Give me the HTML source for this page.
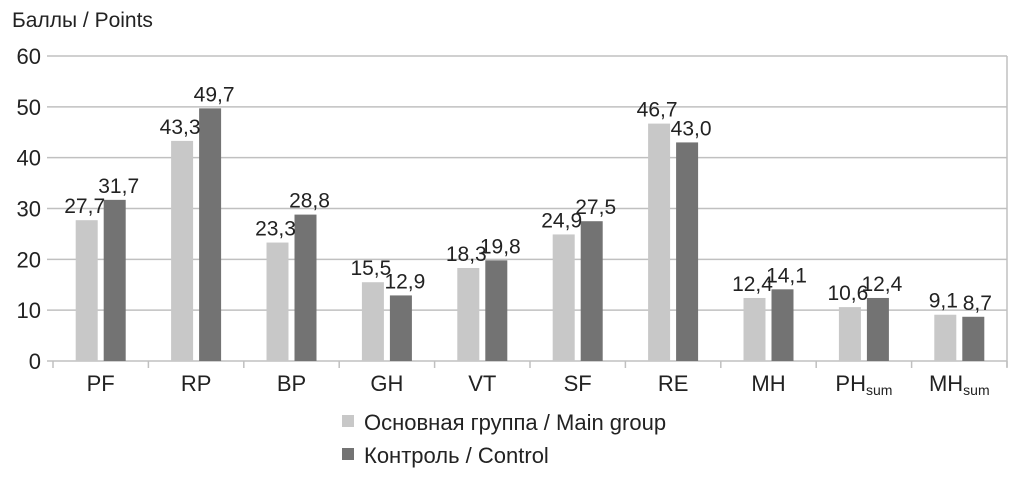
<!DOCTYPE html>
<html><head><meta charset="utf-8"><style>
body{margin:0;background:#fff;width:1024px;height:480px;overflow:hidden}
text{font-family:"Liberation Sans",sans-serif;fill:#222}
</style></head><body>
<svg width="1024" height="480" id="chart">
<text x="12" y="27" font-size="21">Баллы / Points</text>
<g id="grid"></g><g id="bars"></g><g id="labels"></g>
<g>
<rect x="342" y="415" width="12" height="12" fill="#c8c8c8"/>
<text x="364" y="430" font-size="22">Основная группа / Main group</text>
<rect x="342" y="448" width="12" height="12" fill="#737373"/>
<text x="364" y="463" font-size="22">Контроль / Control</text>
</g>
</svg>
<script>
const categories=["PF","RP","BP","GH","VT","SF","RE","MH","PH","MH"];
const subs=["","","","","","","","","sum","sum"];
const mainVals=[27.7,43.3,23.3,15.5,18.3,24.9,46.7,12.4,10.6,9.1];
const ctrlVals=[31.7,49.7,28.8,12.9,19.8,27.5,43.0,14.1,12.4,8.7];
const yTicks=[0,10,20,30,40,50,60];
const NS="http://www.w3.org/2000/svg";
const x0=53,x1=1007,y0=361,y60=56;
const bw=(x1-x0)/categories.length;
function y(v){return y0-(v/60)*(y0-y60);}
function xc(i){return x0+bw*(i+0.5);}
function mk(t,a,p){const e=document.createElementNS(NS,t);for(const k in a)e.setAttribute(k,a[k]);p.appendChild(e);return e;}
const g=document.getElementById('grid'),b=document.getElementById('bars'),l=document.getElementById('labels');
yTicks.forEach(t=>{
 const ln=mk('line',{x1:x0-6,x2:x1,y1:y(t),y2:y(t),stroke:'#c0c0c0','stroke-width':1.5},g);
 
 
 const tx=mk('text',{x:x0-12,y:y(t)+8,'font-size':22,'text-anchor':'end'},g);tx.textContent=t;
 
 
});
mk('line',{x1:x1,x2:x1,y1:y60,y2:y0+6,stroke:'#c0c0c0','stroke-width':1.5},g);
for(let i=0;i<=categories.length;i++){mk('line',{x1:x0+bw*i,x2:x0+bw*i,y1:y0,y2:y0+7,stroke:'#c0c0c0','stroke-width':1.5},g);}
const fmt=v=>v.toFixed(1).replace('.',',');
categories.forEach((c,i)=>{
 const cx=xc(i);
 const r1=mk('rect',{x:cx-25,y:y(mainVals[i]),width:22,height:y0-y(mainVals[i]),fill:'#c8c8c8'},b);
 
 
 const r2=mk('rect',{x:cx+3,y:y(ctrlVals[i]),width:22,height:y0-y(ctrlVals[i]),fill:'#737373'},b);
 
 
 const t1=mk('text',{x:cx-16,y:y(mainVals[i])-7,'font-size':21,'text-anchor':'middle'},l);t1.textContent=fmt(mainVals[i]);
 
 
 const t2=mk('text',{x:cx+18,y:y(ctrlVals[i])-7,'font-size':21,'text-anchor':'middle'},l);t2.textContent=fmt(ctrlVals[i]);
 
 
 const xt=mk('text',{x:cx,y:391,'font-size':22,'text-anchor':'middle'},l);
 xt.textContent=c;
 if(subs[i]){const ts=mk('tspan',{'font-size':14,dy:4},xt);ts.textContent=subs[i];}
 
 
});
</script>
</body></html>
